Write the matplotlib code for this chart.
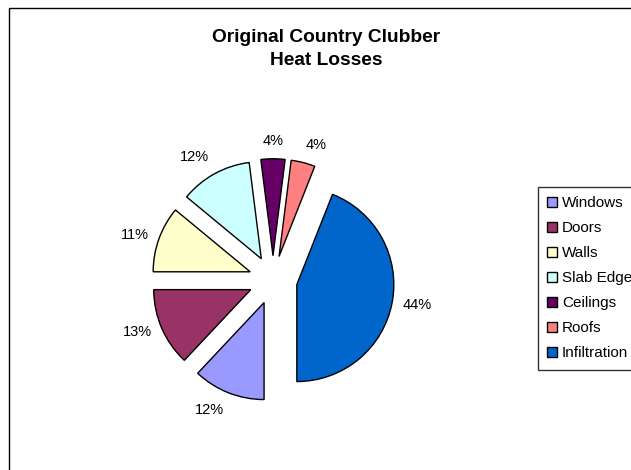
import numpy as np
import matplotlib
matplotlib.use("Agg")
import matplotlib.pyplot as plt
from matplotlib.patches import Rectangle

# datos del gráfico
categorias = ["Windows", "Doors", "Walls", "Slab Edge", "Ceilings", "Roofs", "Infiltration"]
porcentajes = [12, 13, 11, 12, 4, 4, 44]
colores = ["#9999FF", "#993366", "#FFFFCC", "#CCFFFF", "#660066", "#FF8080", "#0066CC"]
titulo = "Original Country Clubber\nHeat Losses"

plt.rcParams["font.family"] = ["Liberation Sans", "DejaVu Sans"]

W, H = 631, 470
fig = plt.figure(figsize=(W / 100, H / 100), dpi=100)

# marco del área del gráfico (cortado a la derecha y abajo)
fig.patches.append(Rectangle((9 / W, -0.1), 1.2, 1 - 8 / H + 0.1, transform=fig.transFigure,
                             fill=False, edgecolor="black", linewidth=1))

# ejes del pie: centro (273, 280) px, radio 97 px
r_px = 97
cx, cy = 273, 280
lim = 1.8
lado = 2 * lim * r_px
ax = fig.add_axes([(cx - lado / 2) / W, (H - cy - lado / 2) / H, lado / W, lado / H])

etiquetas = [f"{v}%" for v in porcentajes]
wedges, textos = ax.pie(porcentajes, labels=etiquetas, colors=colores, startangle=-90,
                        counterclock=False, explode=[0.25] * len(porcentajes),
                        labeldistance=1.11,
                        wedgeprops=dict(edgecolor="black", linewidth=1),
                        textprops=dict(fontsize=10.5, color="black"))
ax.set_xlim(-lim, lim)
ax.set_ylim(-lim, lim)
ax.set_aspect("equal")
ax.axis("off")

# alineación de las etiquetas tipo Excel
for w, t in zip(wedges, textos):
    ang = np.deg2rad((w.theta1 + w.theta2) / 2)
    c, s = np.cos(ang), np.sin(ang)
    t.set_ha("left" if c > 0.2 else ("right" if c < -0.2 else "center"))
    t.set_va("bottom" if s > 0.4 else ("top" if s < -0.4 else "center"))
    t.set_rotation(0)

fig.text(326 / W, 1 - 49 / H, titulo, ha="center", va="center", fontsize=13.8,
         fontweight="bold", linespacing=1.5)

leg = fig.legend(wedges, categorias, loc="upper left", bbox_to_anchor=(538 / W, 1 - 187 / H),
                 fontsize=11, frameon=True, fancybox=False, edgecolor="black",
                 handlelength=0.6, handleheight=0.6, handletextpad=0.35,
                 labelspacing=0.72, borderpad=0.62, borderaxespad=0)
leg.get_frame().set_linewidth(1)

fig.savefig("out.png", dpi=100, facecolor="white")
